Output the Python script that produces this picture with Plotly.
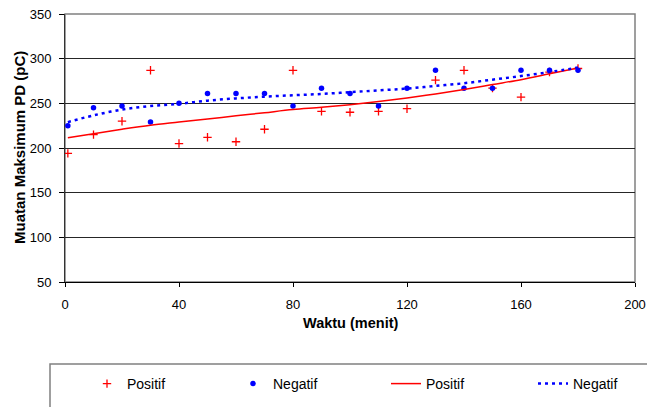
import plotly.graph_objects as go

# ---- data ----
waktu = [1, 10, 20, 30, 40, 50, 60, 70, 80, 90, 100, 110, 120, 130, 140, 150, 160, 170, 180]
positif = [194, 215, 230, 287, 205, 212, 207, 221, 287, 241, 240, 241, 244, 276, 287, 267, 257, 285, 289]
negatif = [225, 245, 247, 229, 250, 261, 261, 261, 247, 267, 261, 247, 267, 287, 267, 267, 287, 287, 287]

trend_t = [1, 10, 20, 30, 40, 50, 60, 70, 80, 90, 100, 110, 120, 130, 140, 150, 160, 170, 180]
trend_positif = [211.5, 216, 221, 225.5, 229, 232.5, 236, 239.5, 243, 245.5, 248.5, 252, 256, 260.5, 265.5, 271, 276.5, 283, 289.5]
trend_negatif = [229, 236.5, 243, 247, 249.5, 253, 255.5, 257.5, 259, 260.5, 262.5, 264.5, 266.5, 269.5, 272.5, 276.5, 280.5, 285, 290]

x_ticks = [0, 40, 80, 120, 160, 200]
y_ticks = [50, 100, 150, 200, 250, 300, 350]

FONT = "Liberation Sans, Arial, sans-serif"

W, H = 647, 407
L, R, T, B = 65, 12, 14, 125
pw, ph = W - L - R, H - T - B


def px_x(p):
    return (p - L) / pw


def px_y(p):
    return (H - B - p) / ph


fig = go.Figure()
fig.add_trace(go.Scatter(
    x=waktu, y=positif, mode="markers", name="Positif", legend="legend",
    marker=dict(symbol="cross-thin", size=6, color="#ff0000",
                line=dict(color="#ff0000", width=1.3)),
))
fig.add_trace(go.Scatter(
    x=waktu, y=negatif, mode="markers", name="Negatif", legend="legend2",
    marker=dict(symbol="circle", size=5.5, color="#0000ff"),
))
fig.add_trace(go.Scatter(
    x=trend_t, y=trend_positif, mode="lines", name="Positif", legend="legend3",
    line=dict(color="#ff0000", width=1.5, shape="spline"),
))
fig.add_trace(go.Scatter(
    x=trend_t, y=trend_negatif, mode="lines", name="Negatif", legend="legend4",
    line=dict(color="#0000ff", width=2.5, dash="3px,4px", shape="spline"),
))


def leg(px_left):
    return dict(
        orientation="h", xref="container", yref="container",
        x=px_left / W, xanchor="left",
        y=1 - 384 / H, yanchor="middle",
        bgcolor="rgba(0,0,0,0)", borderwidth=0,
        font=dict(family=FONT, size=14, color="black"),
        itemsizing="trace",
    )


fig.update_layout(
    width=W, height=H,
    margin=dict(l=L, r=R, t=T, b=B, pad=0),
    paper_bgcolor="white", plot_bgcolor="white",
    font=dict(family=FONT, size=13, color="black"),
    showlegend=True,
    legend=leg(87), legend2=leg(233), legend3=leg(386), legend4=leg(533),
    xaxis=dict(
        range=[0, 200], tickvals=x_ticks, ticktext=[str(v) for v in x_ticks],
        showgrid=False, zeroline=False, automargin=False,
        showline=True, linecolor="black", linewidth=1,
        ticks="outside", ticklen=4, tickcolor="black", tickwidth=1,
        tickfont=dict(family=FONT, size=13), ticklabelstandoff=6,
        ticklabeloverflow="allow",
    ),
    yaxis=dict(
        range=[50, 350], tickvals=y_ticks, ticktext=[str(v) for v in y_ticks],
        showgrid=True, gridcolor="#262626", gridwidth=1, zeroline=False,
        automargin=False,
        showline=True, linecolor="#333333", linewidth=1,
        ticks="outside", ticklen=5, tickcolor="black", tickwidth=1,
        tickfont=dict(family=FONT, size=13), ticklabelstandoff=5,
        ticklabeloverflow="allow",
    ),
    shapes=[
        # plot-area frame (grey top/right border)
        dict(type="rect", xref="paper", yref="paper", x0=0, x1=1, y0=0, y1=1,
             line=dict(color="#808080", width=1.5), layer="below"),
        # legend frame, running off the page at the right and bottom
        dict(type="rect", xref="paper", yref="paper",
             x0=px_x(50), x1=px_x(720), y0=px_y(364), y1=px_y(440),
             line=dict(color="#808080", width=1.5), fillcolor="rgba(0,0,0,0)"),
    ],
    annotations=[
        dict(text="<b>Waktu (menit)</b>", xref="paper", yref="paper",
             x=px_x(350), y=px_y(323), xanchor="center", yanchor="middle",
             showarrow=False, font=dict(family=FONT, size=14.5)),
        dict(text="<b>Muatan Maksimum PD (pC)</b>", xref="paper", yref="paper",
             x=px_x(19), y=0.5, xanchor="center", yanchor="middle", textangle=-90,
             showarrow=False, font=dict(family=FONT, size=15)),
    ],
)

fig.write_html("out.html")
